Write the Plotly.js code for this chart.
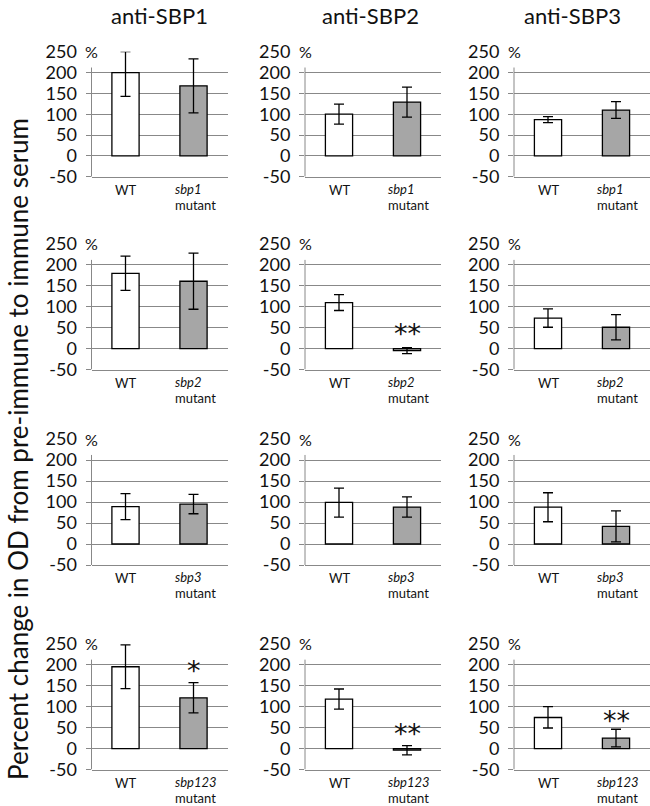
<!DOCTYPE html>
<html>
<head>
<meta charset="utf-8">
<script src="https://cdn.plot.ly/plotly-3.0.1.min.js"></script>
<style>html,body{margin:0;padding:0;background:#fff;}#chart{width:650px;height:806px;}</style>
</head>
<body>
<div id="chart"></div>
<script>
// ---- data (rows: sbp1, sbp2, sbp3, sbp123 mutant; cols: anti-SBP1..3) ----
const antibodies = ['anti-SBP1', 'anti-SBP2', 'anti-SBP3'];
const mutants = ['sbp1', 'sbp2', 'sbp3', 'sbp123'];
const categories = ['WT', 'mutant'];
const yTicks = [-50, 0, 50, 100, 150, 200, 250];

const wtMean     = [[200, 100, 87], [180, 110, 73], [89, 99, 88], [195, 118, 74]];
const wtErrPlus  = [[50, 24, 7],    [41, 19, 22],   [31, 34, 34], [52, 24, 26]];
const wtErrMinus = [[57, 24, 7],    [41, 19, 22],   [31, 35, 35], [52, 24, 25]];
const mutMean    = [[168, 129, 110], [161, -5, 51], [95, 88, 42], [121, -4, 25]];
const mutErr     = [[65, 36, 20],   [67, 7, 30],    [23, 24, 37], [36, 11, 21]];
const sigText    = [['', '', ''], ['', '**', ''], ['', '', ''], ['*', '**', '**']];
const sigY       = [[0, 0, 0], [0, 37, 0], [0, 0, 0], [186, 36, 67]];

// ---- layout geometry (pixels) ----
const W = 650, H = 806;
const colX = [[91.5, 227.5], [305, 441], [514, 650]];
const rowY = [[51.7, 176.7], [244, 369.5], [439, 565], [643.7, 769.5]];
const grey = '#888888';
const FONT = 'Lato, "Open Sans", sans-serif';

const traces = [];
const layout = {
  width: W, height: H,
  margin: {l: 0, r: 0, t: 0, b: 0},
  paper_bgcolor: '#fff', plot_bgcolor: '#fff',
  showlegend: false,
  font: {family: FONT, color: '#111'},
  annotations: [], shapes: []
};

for (let r = 0; r < 4; r++) {
  for (let c = 0; c < 3; c++) {
    const i = r * 3 + c;
    const id = i === 0 ? '' : String(i + 1);
    const xa = 'x' + id, ya = 'y' + id;
    traces.push({
      type: 'bar', x: [0], y: [wtMean[r][c]], xaxis: xa, yaxis: ya, width: 0.4,
      marker: {color: '#ffffff', line: {color: '#000', width: 1.3}},
      error_y: {type: 'data', symmetric: false, array: [wtErrPlus[r][c]], arrayminus: [wtErrMinus[r][c]],
                color: '#000', thickness: 1.3, width: 5},
      hoverinfo: 'skip'
    });
    traces.push({
      type: 'bar', x: [1], y: [mutMean[r][c]], xaxis: xa, yaxis: ya, width: 0.4,
      marker: {color: '#a6a6a6', line: {color: '#000', width: 1.3}},
      error_y: {type: 'data', array: [mutErr[r][c]], color: '#000', thickness: 1.3, width: 5},
      hoverinfo: 'skip'
    });
    layout['xaxis' + id] = {
      domain: [colX[c][0] / W, colX[c][1] / W], anchor: ya,
      range: [-0.5, 1.5], showgrid: false, zeroline: false,
      showticklabels: false, ticks: '', showline: true, linecolor: grey, linewidth: 1,
      fixedrange: true
    };
    layout['yaxis' + id] = {
      domain: [1 - rowY[r][1] / H, 1 - rowY[r][0] / H], anchor: xa,
      range: [-50, 250], tickvals: yTicks, ticktext: yTicks.map(String),
      showgrid: true, gridcolor: grey, gridwidth: 1, zeroline: false,
      ticks: 'outside', ticklen: 5, tickcolor: grey, tickwidth: 1,
      ticklabelstandoff: 5,
      tickfont: {family: FONT, size: 18, color: '#111'},
      showline: false, fixedrange: true
    };
    // vertical axis line (stops a little above 200)
    layout.shapes.push({type: 'line', xref: xa + ' domain', yref: ya, x0: 0, x1: 0, y0: -50, y1: 212,
                        line: {color: grey, width: 1}});
    // % unit label covering top gridline start
    layout.annotations.push({xref: xa + ' domain', yref: ya, x: 0, y: 250, xanchor: 'left', yanchor: 'middle',
      xshift: -7, text: '%', showarrow: false, bgcolor: '#fff', width: 22, align: 'left', borderpad: 0,
      font: {family: FONT, size: 16, color: '#111'}});
    // category labels
    layout.annotations.push({xref: xa, yref: ya, x: 0, y: -50, yanchor: 'middle', yshift: -13, showarrow: false,
      text: categories[0], font: {family: FONT, size: 13, color: '#111'}});
    layout.annotations.push({xref: xa, yref: ya, x: 1, y: -50, xanchor: 'left', xshift: -21, yanchor: 'middle',
      yshift: -12, showarrow: false, text: '<i>' + mutants[r] + '</i>',
      font: {family: FONT, size: 13, color: '#111'}});
    layout.annotations.push({xref: xa, yref: ya, x: 1, y: -50, xanchor: 'left', xshift: -21, yanchor: 'middle',
      yshift: -28, showarrow: false, text: categories[1],
      font: {family: FONT, size: 13, color: '#111'}});
    if (sigText[r][c]) {
      layout.annotations.push({xref: xa, yref: ya, x: 1, y: sigY[r][c], yanchor: 'middle', showarrow: false,
        text: sigText[r][c], font: {family: 'DejaVu Sans', size: 27, color: '#111'}});
    }
  }
}
// column titles
const titleX = [159.5, 370, 572];
for (let c = 0; c < 3; c++) {
  layout.annotations.push({xref: 'paper', yref: 'paper', x: titleX[c] / W, y: 1 - 15 / H,
    xanchor: 'center', yanchor: 'middle', showarrow: false, text: antibodies[c],
    font: {family: FONT, size: 22, color: '#111'}});
}
// shared y title
layout.annotations.push({xref: 'paper', yref: 'paper', x: 0, y: 1 - 449 / H, xanchor: 'left', yanchor: 'middle',
  textangle: -90, showarrow: false, text: 'Percent change in OD from pre-immune to immune serum',
  font: {family: FONT, size: 26, color: '#111'}});

Plotly.newPlot('chart', traces, layout, {displayModeBar: false, staticPlot: true});
</script>
</body>
</html>
